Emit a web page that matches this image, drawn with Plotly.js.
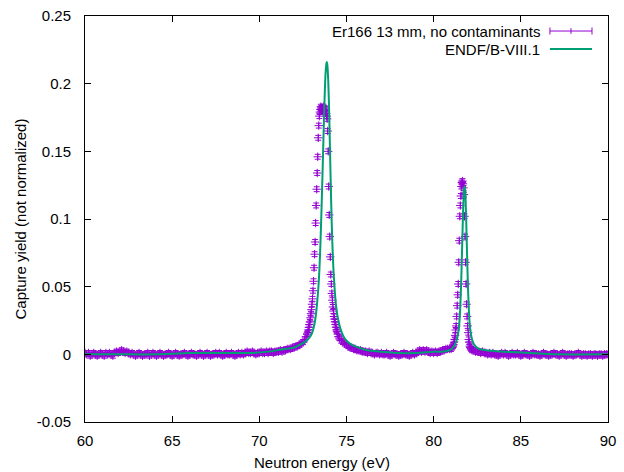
<!DOCTYPE html>
<html>
<head>
<meta charset="utf-8">
<script src="https://cdn.plot.ly/plotly-3.0.1.min.js"></script>
<style>html,body{margin:0;padding:0;background:#fff;}#chart{width:624px;height:472px;}</style>
</head>
<body>
<div id="chart"></div>
<script>
// ---- measured data: Er166 13 mm capture yield ----
const base1E = [60.0,60.1,60.2,60.3,60.4,60.5,60.6,60.7,60.8,60.9,
  61.0,61.1,61.2,61.3,61.4,61.5,61.6,61.7,61.8,61.9,
  62.0,62.1,62.2,62.3,62.4,62.5,62.6,62.7,62.8,62.9,
  63.0,63.1,63.2,63.3,63.4,63.5,63.6,63.7,63.8,63.9,
  64.0,64.1,64.2,64.3,64.4,64.5,64.6,64.7,64.8,64.9,
  65.0,65.1,65.2,65.3,65.4,65.5,65.6,65.7,65.8,65.9,
  66.0,66.1,66.2,66.3,66.4,66.5,66.6,66.7,66.8,66.9,
  67.0,67.1,67.2,67.3,67.4,67.5,67.6,67.7,67.8,67.9,
  68.0,68.1,68.2,68.3,68.4,68.5,68.6,68.7,68.8,68.9,
  69.0,69.1,69.2,69.3,69.4,69.5,69.6,69.7,69.8,69.9,
  70.0,70.1,70.2,70.3,70.4,70.5,70.6,70.7,70.8,70.9,
  71.0,71.1,71.2,71.3,71.4,71.5,71.6,71.7,71.8,71.9];
const base1Y = [0.001,0.000,0.001,-0.001,0.000,0.001,0.000,-0.001,0.000,0.001,
  0.000,-0.001,0.001,0.000,0.001,0.000,-0.001,0.001,0.002,0.001,
  0.002,0.003,0.002,0.001,0.002,0.001,0.000,0.001,0.000,-0.001,
  0.000,0.001,0.000,-0.001,0.000,0.000,0.001,-0.001,0.000,0.001,
  0.000,-0.001,0.000,0.001,0.000,-0.001,0.000,0.000,0.001,0.000,
  -0.001,0.000,0.001,0.000,-0.001,0.000,0.000,0.001,0.000,-0.001,
  0.000,0.001,0.000,0.000,-0.001,0.000,0.001,0.000,-0.001,0.000,
  0.001,0.000,-0.001,0.000,0.000,0.001,0.000,0.001,0.000,-0.001,
  0.000,0.001,0.000,0.000,0.001,0.000,-0.001,0.000,0.001,0.000,
  0.001,0.000,0.001,0.002,0.001,0.001,0.002,0.001,0.000,0.001,
  0.001,0.002,0.001,0.001,0.002,0.001,0.002,0.002,0.001,0.002,
  0.002,0.002,0.003,0.002,0.003,0.003,0.004,0.004,0.004,0.005];

const peak1E = [72.0,72.1,72.2,72.3,72.4,72.5,72.6,72.68,
  72.75,72.78,72.81,72.84,72.87,72.90,72.93,72.96,72.99,73.02,
  73.05,73.08,73.11,73.14,73.17,73.20,73.23,73.26,73.29,73.32,
  73.35,73.38,73.41,73.44,73.47,73.50,73.53,73.56,73.59,73.62,
  73.65,73.68,73.71,73.74,73.77,73.80,73.83,73.86,73.89,73.92,
  73.95,73.98,74.01,74.04,74.07,74.10,74.13,74.16,74.19,74.22,
  74.25,74.28,74.31,74.34,74.37,74.40,74.43,74.46,74.49,
  74.55,74.6,74.7,74.8,74.9,75.0,75.1,75.2,75.3,75.4,75.5,75.6,75.7,75.8,75.9];
const peak1Y = [0.005,0.006,0.006,0.007,0.008,0.009,0.011,0.013,
  0.015,0.016,0.018,0.020,0.022,0.024,0.027,0.030,0.033,0.037,
  0.041,0.047,0.054,0.064,0.074,0.083,0.097,0.110,0.122,0.134,
  0.146,0.160,0.169,0.176,0.179,0.181,0.183,0.182,0.180,0.182,
  0.181,0.183,0.180,0.182,0.179,0.181,0.178,0.176,0.174,0.165,
  0.150,0.124,0.103,0.087,0.072,0.059,0.052,0.045,0.040,0.035,
  0.032,0.028,0.026,0.024,0.022,0.020,0.018,0.017,0.015,
  0.013,0.012,0.010,0.009,0.008,0.007,0.006,0.005,0.005,0.004,0.004,0.003,0.003,0.003,0.002];

const midE = [76.0,76.1,76.2,76.3,76.4,76.5,76.6,76.7,76.8,76.9,
  77.0,77.1,77.2,77.3,77.4,77.5,77.6,77.7,77.8,77.9,
  78.0,78.1,78.2,78.3,78.4,78.5,78.6,78.7,78.8,78.9,
  79.0,79.1,79.2,79.3,79.4,79.5,79.6,79.7,79.8,79.9,
  80.0,80.1,80.2,80.3,80.4,80.5,80.6,80.7,80.8,80.9];
const midY = [0.002,0.002,0.001,0.002,0.001,0.001,0.000,0.001,0.001,0.000,
  0.001,0.000,0.000,0.001,0.000,-0.001,0.000,0.001,0.000,0.000,
  -0.001,0.000,0.000,0.001,0.000,0.000,-0.001,0.000,0.001,0.000,
  0.001,0.002,0.003,0.002,0.003,0.002,0.003,0.002,0.001,0.002,
  0.001,0.002,0.001,0.002,0.002,0.003,0.003,0.004,0.004,0.004];

const peak2E = [81.00,81.05,81.10,81.14,81.17,81.20,81.23,81.26,81.29,81.32,
  81.35,81.38,81.41,81.44,81.47,81.50,81.53,81.56,81.59,81.62,
  81.65,81.68,81.71,81.74,81.77,81.80,81.83,81.86,81.89,81.92,
  81.95,81.98,82.01,82.04,82.07,82.10,82.15,82.2,82.3,82.4,82.5];
const peak2Y = [0.004,0.005,0.006,0.007,0.009,0.011,0.014,0.018,0.021,0.028,
  0.036,0.044,0.052,0.068,0.084,0.102,0.110,0.117,0.124,0.127,
  0.128,0.126,0.123,0.118,0.102,0.087,0.068,0.052,0.037,0.028,
  0.021,0.016,0.011,0.009,0.006,0.005,0.004,0.003,0.003,0.002,0.002];

const base2E = [82.6,82.7,82.8,82.9,
  83.0,83.1,83.2,83.3,83.4,83.5,83.6,83.7,83.8,83.9,
  84.0,84.1,84.2,84.3,84.4,84.5,84.6,84.7,84.8,84.9,
  85.0,85.1,85.2,85.3,85.4,85.5,85.6,85.7,85.8,85.9,
  86.0,86.1,86.2,86.3,86.4,86.5,86.6,86.7,86.8,86.9,
  87.0,87.1,87.2,87.3,87.4,87.5,87.6,87.7,87.8,87.9,
  88.0,88.1,88.2,88.3,88.4,88.5,88.6,88.7,88.8,88.9,
  89.0,89.1,89.2,89.3,89.4,89.5,89.6,89.7,89.8,89.9,90.0];
const base2Y = [0.002,0.001,0.002,0.001,
  0.001,0.000,0.001,0.000,0.001,0.000,0.000,-0.001,0.000,0.001,
  0.000,0.001,0.000,-0.001,0.000,0.001,0.000,0.000,0.001,0.000,
  -0.001,0.000,0.001,0.000,0.000,-0.001,0.000,0.001,0.000,0.000,
  0.000,-0.001,0.000,0.001,0.000,0.000,-0.001,0.000,0.000,0.001,
  0.000,0.000,-0.001,0.000,0.001,0.000,-0.001,0.000,0.000,0.000,
  -0.001,0.000,0.000,0.001,0.000,-0.001,0.000,0.000,-0.001,0.000,
  0.000,-0.001,0.000,0.000,-0.001,0.000,0.000,-0.001,0.000,0.000,0.000];

// ---- evaluated curve: ENDF/B-VIII.1 ----
const endfE = [60.0,62.0,64.0,66.0,68.0,69.5,70.5,71.0,71.5,72.0,72.3,72.6,72.85,73.0,73.1,73.2,
  73.3,73.4,73.45,73.5,73.55,73.6,73.65,73.7,73.75,73.8,73.85,73.87,73.9,73.95,74.0,74.05,
  74.1,74.15,74.2,74.25,74.3,74.4,74.5,74.65,74.8,75.0,75.3,75.7,76.2,77.0,78.0,79.0,
  80.0,80.5,80.9,81.1,81.25,81.35,81.45,81.52,81.58,81.63,81.68,81.72,81.75,81.78,
  81.82,81.86,81.91,81.96,82.01,82.07,82.15,82.25,82.4,82.6,83.0,84.0,85.5,87.0,90.0];
const endfY = [0.000,0.000,0.000,0.001,0.001,0.001,0.002,0.003,0.004,0.005,0.007,0.009,0.012,0.015,0.019,0.025,
  0.036,0.052,0.064,0.080,0.100,0.122,0.146,0.170,0.192,0.208,0.215,0.216,0.214,0.203,0.182,0.153,
  0.124,0.098,0.078,0.063,0.052,0.036,0.027,0.019,0.014,0.010,0.007,0.005,0.003,0.002,0.001,0.001,
  0.002,0.002,0.003,0.005,0.008,0.012,0.020,0.033,0.054,0.078,0.102,0.117,0.123,0.124,
  0.118,0.102,0.077,0.053,0.035,0.022,0.014,0.009,0.006,0.004,0.003,0.002,0.001,0.000,0.000];

const xTicks = [60,65,70,75,80,85,90];
const yTicks = [-0.05,0,0.05,0.1,0.15,0.2,0.25];
const yTickText = ['-0.05','0','0.05','0.1','0.15','0.2','0.25'];
const legendNames = ['Er166 13 mm, no contaminants','ENDF/B-VIII.1'];
const xTitle = 'Neutron energy (eV)';
const yTitle = 'Capture yield (not normalized)';

const PURPLE = '#9400d3';
const GREEN = '#009e73';
const FONT = 'Liberation Sans, Arial, Helvetica, sans-serif';
const FS = 15;

const dataE = [].concat(base1E, peak1E, midE, peak2E, base2E);
const dataY = [].concat(base1Y, peak1Y, midY, peak2Y, base2Y);

const traces = [
  {
    x: dataE, y: dataY, type: 'scatter', mode: 'markers', name: legendNames[0],
    marker: {symbol: 'cross-thin', size: 6, color: PURPLE, line: {color: PURPLE, width: 1}},
    error_y: {type: 'constant', value: 0.0018, color: PURPLE, thickness: 1, width: 3},
    showlegend: false
  },
  {
    x: endfE, y: endfY, type: 'scatter', mode: 'lines', name: legendNames[1],
    line: {color: GREEN, width: 2, shape: 'spline', smoothing: 0.6},
    showlegend: false
  }
];

// legend drawn gnuplot-style (text then sample) in paper coordinates
const lx0 = 0.889, lx1 = 0.9694, ly1 = 0.963, ly2 = 0.9187, cap = 0.0086;
const shapes = [
  {type:'line', xref:'paper', yref:'paper', x0:lx0, x1:lx1, y0:ly1, y1:ly1, line:{color:PURPLE, width:1}},
  {type:'line', xref:'paper', yref:'paper', x0:lx0, x1:lx0, y0:ly1-cap, y1:ly1+cap, line:{color:PURPLE, width:1}},
  {type:'line', xref:'paper', yref:'paper', x0:lx1, x1:lx1, y0:ly1-cap, y1:ly1+cap, line:{color:PURPLE, width:1}},
  {type:'line', xref:'paper', yref:'paper', x0:(lx0+lx1)/2, x1:(lx0+lx1)/2, y0:ly1-cap*0.8, y1:ly1+cap*0.8, line:{color:PURPLE, width:1}},
  {type:'line', xref:'paper', yref:'paper', x0:lx0, x1:lx1, y0:ly2, y1:ly2, line:{color:GREEN, width:2}}
];
const annotations = [
  {xref:'paper', yref:'paper', x:0.8738, y:ly1, xanchor:'right', yanchor:'middle', text:legendNames[0], showarrow:false, font:{family:FONT, size:FS, color:'#000'}},
  {xref:'paper', yref:'paper', x:0.8738, y:ly2, xanchor:'right', yanchor:'middle', text:legendNames[1], showarrow:false, font:{family:FONT, size:FS, color:'#000'}},
  {xref:'paper', yref:'paper', x:0.453, y:-0.1, xanchor:'center', yanchor:'middle', text:xTitle, showarrow:false, font:{family:FONT, size:FS, color:'#000'}}
];

const layout = {
  width: 624, height: 472,
  margin: {l: 85, r: 16, t: 16, b: 50, pad: 0},
  paper_bgcolor: '#fff', plot_bgcolor: '#fff',
  font: {family: FONT, size: FS, color: '#000'},
  showlegend: false,
  xaxis: {
    range: [60, 90], tickvals: xTicks, ticktext: xTicks.map(String),
    showgrid: false, zeroline: false, showline: true, mirror: 'ticks',
    linecolor: '#000', linewidth: 1, ticks: 'inside', ticklen: 6, tickcolor: '#000',
    ticklabelstandoff: 5,
    tickfont: {family: FONT, size: FS, color: '#000'}
  },
  yaxis: {
    range: [-0.05, 0.25], tickvals: yTicks, ticktext: yTickText,
    showgrid: false, zeroline: false, showline: true, mirror: 'ticks',
    linecolor: '#000', linewidth: 1, ticks: 'inside', ticklen: 6, tickcolor: '#000',
    ticklabelstandoff: 10,
    tickfont: {family: FONT, size: FS, color: '#000'},
    title: {text: yTitle, font: {family: FONT, size: FS, color: '#000'}, standoff: 6}
  },
  shapes: shapes,
  annotations: annotations
};

Plotly.newPlot('chart', traces, layout, {displayModeBar: false, staticPlot: true});
</script>
</body>
</html>
